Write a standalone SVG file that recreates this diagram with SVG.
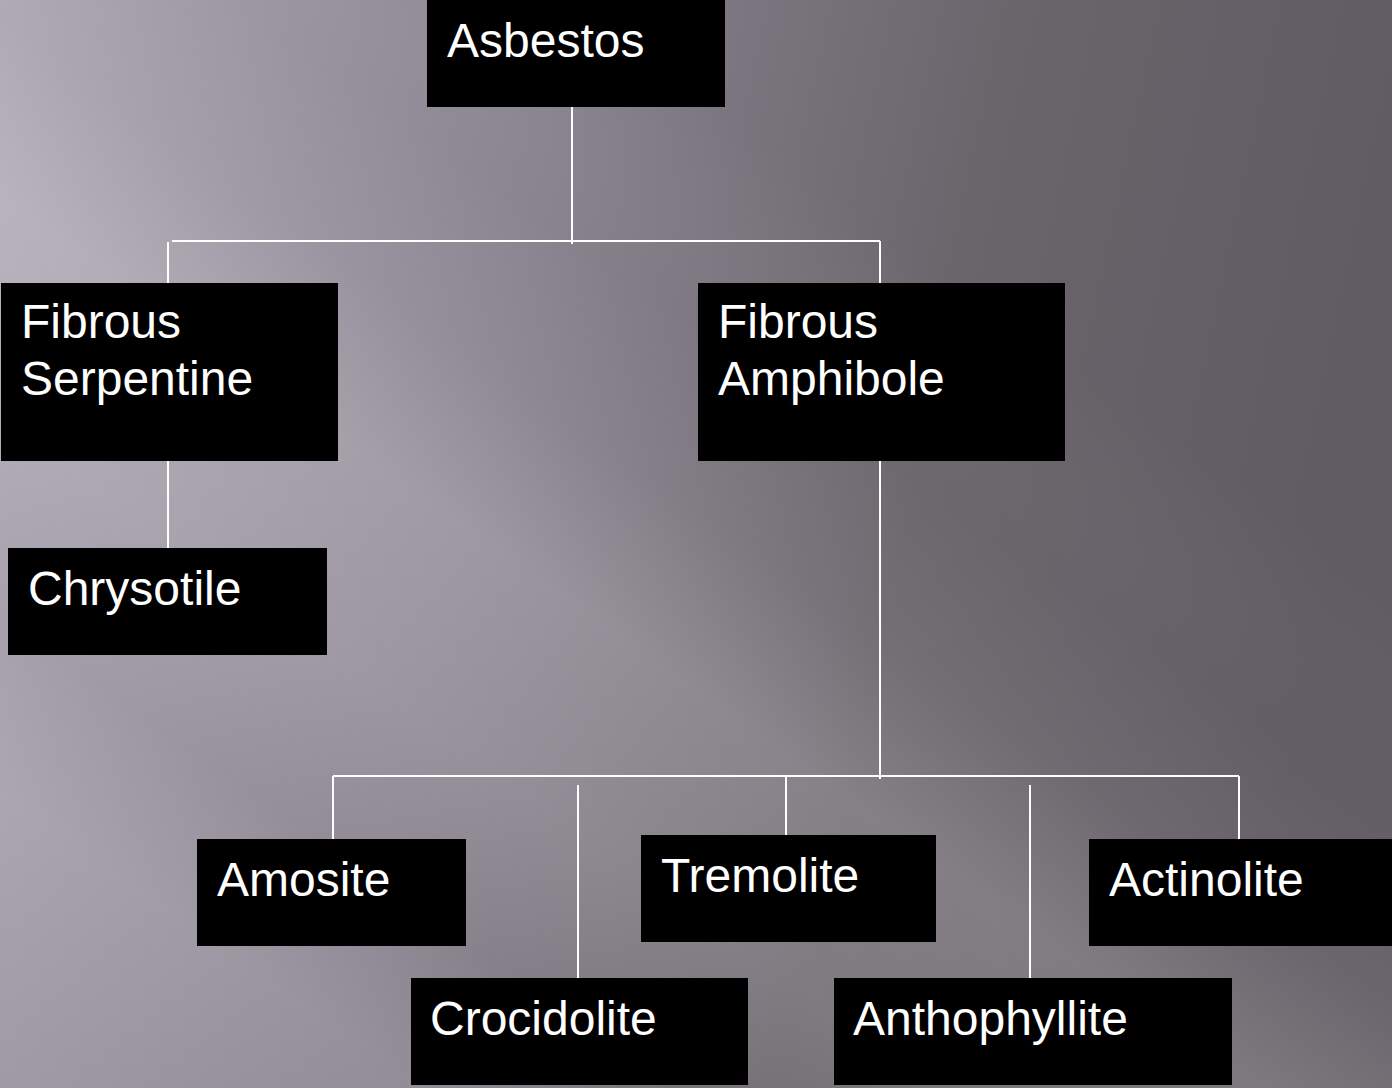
<svg xmlns="http://www.w3.org/2000/svg" width="1392" height="1088" viewBox="0 0 1392 1088">
<defs>
<linearGradient id="base" x1="0" y1="0" x2="1392" y2="300" gradientUnits="userSpaceOnUse">
<stop offset="0" stop-color="#aca6b2"/>
<stop offset="0.4" stop-color="#8a8490"/>
<stop offset="0.7" stop-color="#6d676e"/>
<stop offset="1" stop-color="#635e65"/>
</linearGradient>
<linearGradient id="streak" x1="0" y1="1088" x2="700" y2="100" gradientUnits="userSpaceOnUse">
<stop offset="0" stop-color="#fff" stop-opacity="0.02"/>
<stop offset="0.2" stop-color="#fff" stop-opacity="0.10"/>
<stop offset="0.32" stop-color="#fff" stop-opacity="0.03"/>
<stop offset="0.45" stop-color="#fff" stop-opacity="0.13"/>
<stop offset="0.6" stop-color="#fff" stop-opacity="0.17"/>
<stop offset="0.72" stop-color="#fff" stop-opacity="0.05"/>
<stop offset="0.85" stop-color="#fff" stop-opacity="0"/>
<stop offset="1" stop-color="#000" stop-opacity="0.03"/>
</linearGradient>
</defs>
<style>
.box{fill:#000}
.t{fill:#fff;font-family:"Liberation Sans",Arial,sans-serif;font-size:48px}
.c{stroke:#fff;stroke-width:2;fill:none}
</style>
<rect x="0" y="0" width="1392" height="1088" fill="url(#base)"/>
<rect x="0" y="0" width="1392" height="1088" fill="url(#streak)"/>
<g id="connectors">
<line class="c" x1="572" y1="107" x2="572" y2="244"/>
<line class="c" x1="172" y1="241" x2="880" y2="241"/>
<line class="c" x1="168" y1="242" x2="168" y2="283"/>
<line class="c" x1="880" y1="241" x2="880" y2="283"/>
<line class="c" x1="168" y1="461" x2="168" y2="548"/>
<line class="c" x1="880" y1="461" x2="880" y2="779"/>
<line class="c" x1="333" y1="776" x2="1239" y2="776"/>
<line class="c" x1="333" y1="776" x2="333" y2="839"/>
<line class="c" x1="578" y1="785" x2="578" y2="978"/>
<line class="c" x1="786" y1="776" x2="786" y2="835"/>
<line class="c" x1="1030" y1="785" x2="1030" y2="978"/>
<line class="c" x1="1239" y1="776" x2="1239" y2="839"/>
</g>
<g id="asbestos"><rect class="box" x="427" y="0" width="298" height="107"/><text class="t" x="447" y="57">Asbestos</text></g>
<g id="serpentine"><rect class="box" x="1" y="283" width="337" height="178"/><text class="t" x="21" y="338">Fibrous</text><text class="t" x="21" y="395">Serpentine</text></g>
<g id="amphibole"><rect class="box" x="698" y="283" width="367" height="178"/><text class="t" x="718" y="338">Fibrous</text><text class="t" x="718" y="395">Amphibole</text></g>
<g id="chrysotile"><rect class="box" x="8" y="548" width="319" height="107"/><text class="t" x="28" y="605">Chrysotile</text></g>
<g id="amosite"><rect class="box" x="197" y="839" width="269" height="107"/><text class="t" x="217" y="896">Amosite</text></g>
<g id="crocidolite"><rect class="box" x="411" y="978" width="337" height="107"/><text class="t" x="430" y="1035">Crocidolite</text></g>
<g id="tremolite"><rect class="box" x="641" y="835" width="295" height="107"/><text class="t" x="661" y="892">Tremolite</text></g>
<g id="anthophyllite"><rect class="box" x="834" y="978" width="398" height="107"/><text class="t" x="853" y="1035">Anthophyllite</text></g>
<g id="actinolite"><rect class="box" x="1089" y="839" width="303" height="107"/><text class="t" x="1109" y="896">Actinolite</text></g>
</svg>
